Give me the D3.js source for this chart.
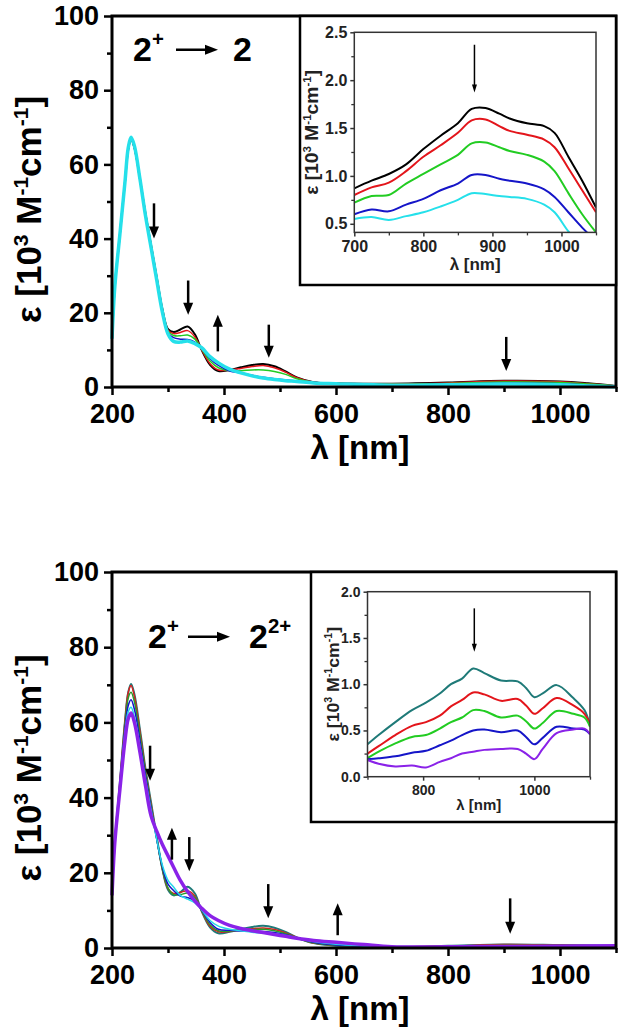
<!DOCTYPE html>
<html>
<head>
<meta charset="utf-8">
<script src="https://cdn.jsdelivr.net/npm/d3@7"></script>
<style>
  body { margin: 0; background: #fff; }
  svg { display: block; font-family: "Liberation Sans", Arial, sans-serif; font-weight: bold; }
</style>
</head>
<body>
<svg width="619" height="1035"></svg>
<script>
// ---- top panel: 2+ -> 2 ----
const topWl = [200, 205, 214, 223, 229, 234, 240, 250, 260, 270, 280, 290, 300, 310, 322, 335, 348, 360, 375, 390,
               410, 430, 450, 470, 490, 510, 530, 560, 600, 700, 800, 900, 1000, 1050, 1100];
const topBlack = [13, 27, 41, 55, 64, 66.8, 64.5, 56, 46.5, 38, 29.5, 21, 15.6, 14.8, 15.5, 16.3, 14.2, 10, 6, 4.3,
                  4.6, 5.3, 5.9, 6.2, 5.6, 4.2, 2.6, 1.3, 1.0, 0.9, 1.2, 1.7, 1.5, 1.0, 0.3];
const topRed = [13, 27, 41, 55, 64, 66.8, 64.5, 56, 46.5, 38, 29.3, 20.8, 15.3, 14.4, 14.7, 15.2, 13.5, 10.1, 6.3, 4.6,
                4.6, 5.0, 5.5, 5.8, 5.2, 4.0, 2.5, 1.3, 1.0, 0.85, 1.1, 1.6, 1.4, 0.9, 0.3];
const topGreen = [13, 27, 41, 55, 64, 66.8, 64.5, 56, 46.3, 37.8, 29.1, 20.6, 15.0, 13.9, 13.8, 14.0, 12.9, 10.3, 7.0, 5.2,
                  4.4, 4.4, 4.6, 4.6, 4.2, 3.4, 2.2, 1.2, 0.95, 0.75, 0.95, 1.35, 1.2, 0.8, 0.25];
const topBlue = [13, 27, 41, 55, 64, 66.8, 64.5, 56, 46.2, 37.6, 28.9, 20.4, 14.6, 13.3, 12.9, 12.8, 12.1, 10.5, 7.6, 5.8,
                 4.3, 3.8, 3.2, 2.6, 2.2, 1.9, 1.6, 1.2, 0.9, 0.6, 0.75, 1.0, 0.9, 0.5, 0.2];
const topCyan = [13, 27, 41, 55, 64.5, 67.3, 65, 56, 46, 37.4, 28.7, 20.2, 14.3, 12.3, 12.1, 12.4, 11.7, 10.6, 8.2, 6.5,
                 4.8, 3.8, 3.0, 2.4, 2.0, 1.7, 1.5, 1.1, 0.9, 0.5, 0.6, 0.8, 0.6, 0.3, 0.1];

const topInsetWl = [700, 725, 750, 775, 800, 825, 850, 870, 890, 910, 925, 950, 975, 990, 1010, 1030, 1050];
const topInsetBlack = [0.87, 0.95, 1.02, 1.12, 1.28, 1.42, 1.55, 1.70, 1.71, 1.65, 1.60, 1.55, 1.52, 1.45, 1.20, 0.95, 0.67];
const topInsetRed = [0.80, 0.88, 0.93, 1.05, 1.20, 1.32, 1.45, 1.58, 1.59, 1.52, 1.47, 1.43, 1.38, 1.30, 1.08, 0.85, 0.62];
const topInsetGreen = [0.72, 0.79, 0.80, 0.92, 1.02, 1.12, 1.22, 1.34, 1.35, 1.30, 1.26, 1.22, 1.15, 1.05, 0.82, 0.60, 0.41];
const topInsetBlue = [0.60, 0.65, 0.63, 0.70, 0.76, 0.85, 0.92, 1.01, 1.01, 0.97, 0.95, 0.92, 0.86, 0.78, 0.62, 0.46, 0.32];
const topInsetCyan = [0.55, 0.57, 0.54, 0.58, 0.62, 0.68, 0.75, 0.82, 0.81, 0.79, 0.78, 0.76, 0.70, 0.62, 0.42, 0.25, 0.10];

// arrows: [wavelength, from, to] in data units
const topArrows = [[275, 49.5, 40], [336, 28.7, 19.5], [389, 9.6, 19.5], [480, 16.8, 7.9], [904, 13.5, 4.3]];

// ---- bottom panel: 2+ -> 2 2+ ----
const botWl = [200, 205, 214, 223, 229, 234, 240, 250, 260, 270, 280, 290, 300, 310, 322, 335, 348, 360, 375, 390,
               410, 430, 450, 470, 490, 510, 530, 560, 600, 650, 700, 800, 900, 1000, 1100];
const botTeal = [14, 28, 44, 60, 68, 70.2, 67.5, 58, 47.5, 38.5, 29.5, 21, 15.5, 14.0, 14.8, 16.3, 14.5, 9.8, 5.5, 3.9,
                 4.3, 5.0, 5.6, 5.9, 5.4, 4.3, 2.8, 1.3, 0.6, 0.4, 0.3, 0.6, 0.95, 0.8, 0.6];
const botRed = [14, 28, 44, 60, 68, 69.8, 67, 57.5, 47, 38, 29.3, 21, 15.8, 14.5, 14.8, 15.2, 13.8, 9.9, 5.8, 4.3,
                4.4, 4.8, 5.1, 5.3, 4.9, 4.0, 2.8, 1.3, 0.7, 0.4, 0.3, 0.5, 0.9, 0.75, 0.55];
const botGreen = [14, 28, 43.5, 59, 66.5, 68, 65.5, 56.5, 46.5, 37.5, 29, 21, 16, 14.2, 14.2, 14.6, 13.4, 10, 6.2, 4.6,
                  4.5, 4.7, 4.9, 5.0, 4.6, 3.8, 2.7, 1.4, 0.7, 0.4, 0.3, 0.45, 0.7, 0.6, 0.5];
const botBlue = [14, 28, 43, 58, 64.5, 66, 63.5, 55, 45.5, 37, 28.8, 21.5, 17, 15.3, 13.8, 13.4, 12.5, 10.1, 6.8, 5.0,
                 4.7, 4.5, 4.5, 4.4, 4.1, 3.5, 2.7, 1.5, 0.8, 0.5, 0.35, 0.35, 0.5, 0.45, 0.45];
const botCyan = [14, 28, 42.5, 57, 62.8, 64, 61.5, 53.5, 44.5, 36.5, 28.8, 22, 18, 16.2, 14, 13, 12, 10.2, 7.3, 5.8,
                 5.0, 4.6, 4.2, 4.0, 3.8, 3.3, 2.7, 1.7, 1.0, 0.6, 0.35, 0.3, 0.4, 0.4, 0.45];
const botPurple = [14, 28, 42, 55, 61, 62.5, 60, 52, 43, 35, 31, 27.5, 24.5, 21.5, 18, 15, 12.5, 10.6, 8.6, 7.3,
                   6.0, 5.2, 4.6, 4.1, 3.6, 3.1, 2.6, 2.0, 1.5, 0.9, 0.35, 0.3, 0.4, 0.45, 0.6];

const botInsetWl = [700, 720, 750, 780, 805, 830, 850, 870, 890, 910, 940, 970, 985, 1000, 1015, 1040, 1070, 1090, 1100];
const botInsetTeal = [0.35, 0.45, 0.59, 0.72, 0.80, 0.90, 1.00, 1.06, 1.17, 1.12, 1.04, 1.03, 0.96, 0.86, 0.90, 0.99, 0.85, 0.72, 0.55];
const botInsetRed = [0.25, 0.33, 0.45, 0.55, 0.59, 0.66, 0.76, 0.83, 0.91, 0.89, 0.82, 0.84, 0.77, 0.68, 0.74, 0.85, 0.77, 0.68, 0.57];
const botInsetGreen = [0.20, 0.27, 0.36, 0.43, 0.45, 0.52, 0.59, 0.64, 0.72, 0.71, 0.64, 0.66, 0.60, 0.52, 0.58, 0.71, 0.68, 0.64, 0.54];
const botInsetBlue = [0.19, 0.20, 0.22, 0.26, 0.28, 0.34, 0.39, 0.45, 0.50, 0.51, 0.48, 0.50, 0.43, 0.35, 0.42, 0.54, 0.52, 0.51, 0.46];
const botInsetPurple = [0.18, 0.14, 0.11, 0.12, 0.10, 0.16, 0.20, 0.25, 0.27, 0.29, 0.30, 0.30, 0.25, 0.19, 0.30, 0.47, 0.51, 0.52, 0.46];

const botArrows = [[268, 53.8, 44.5], [307, 23.5, 32], [338, 29.5, 20.4], [479, 17, 7.9], [603, 3.4, 11.9], [911, 13.2, 3.8]];

const mainXTicks = [200, 400, 600, 800, 1000];
const mainYTicks = [0, 20, 40, 60, 80, 100];

const svg = d3.select("svg");
svg.append("rect").attr("width", 619).attr("height", 1035).attr("fill", "#fff");

const x = d3.scaleLinear().domain([200, 1100]).range([112, 616]);

function vArrow(g, px, y1, y2, sw, hl, hw) {
    // arrow pointing from y1 to y2 (pixels)
    const dir = y2 > y1 ? 1 : -1;
    g.append("line").attr("x1", px).attr("x2", px).attr("y1", y1).attr("y2", y2 - dir * hl * 0.8)
        .attr("stroke", "#000").attr("stroke-width", sw);
    g.append("path")
        .attr("d", `M${px - hw / 2},${y2 - dir * hl} L${px + hw / 2},${y2 - dir * hl} L${px},${y2} Z`)
        .attr("fill", "#000");
}

function superText(t, parts, sup) {
    parts.forEach(([s, up], i) => {
        const prev = i > 0 ? parts[i - 1][1] : false;
        const ts = t.append("tspan").text(s);
        if (up) ts.attr("font-size", sup.size);
        if (up && !prev) ts.attr("dy", -sup.dy);
        else if (!up && prev) ts.attr("dy", sup.dy);
    });
}

const yLabelParts = [["ε [10", false], ["3", true], [" M", false], ["-1", true], ["cm", false], ["-1", true], ["]", false]];

function drawMain(y0, y1, wl, series, arrows) {
    const y = d3.scaleLinear().domain([0, 100]).range([y0, y1]);
    const g = svg.append("g");

    const line = d3.line().x((d, i) => x(wl[i])).y(d => y(d)).curve(d3.curveCatmullRom.alpha(0.5));
    series.forEach(s => {
        g.append("path").datum(s.values).attr("d", line)
            .attr("fill", "none").attr("stroke", s.color).attr("stroke-width", s.width)
            .attr("stroke-linejoin", "round");
    });

    // minor ticks
    g.append("g").attr("transform", `translate(0,${y0})`)
        .call(d3.axisBottom(x).tickValues([300, 500, 700, 900, 1100]).tickSize(5).tickFormat(""))
        .call(a => a.select(".domain").remove())
        .selectAll("line").attr("stroke-width", 2.5);
    g.append("g").attr("transform", `translate(112,0)`)
        .call(d3.axisLeft(y).tickValues([10, 30, 50, 70, 90]).tickSize(5).tickFormat(""))
        .call(a => a.select(".domain").remove())
        .selectAll("line").attr("stroke-width", 2.5);

    const ax = g.append("g").attr("transform", `translate(0,${y0})`)
        .call(d3.axisBottom(x).tickValues(mainXTicks).tickFormat(d3.format("d")).tickSize(8).tickPadding(9).tickSizeOuter(0));
    ax.select(".domain").remove();
    ax.selectAll("line").attr("stroke-width", 2.5);
    ax.selectAll("text").attr("font-size", 27).attr("font-family", null).attr("fill", "#000");

    const ay = g.append("g").attr("transform", `translate(112,0)`)
        .call(d3.axisLeft(y).tickValues(mainYTicks).tickSize(8).tickPadding(5).tickSizeOuter(0));
    ay.select(".domain").remove();
    ay.selectAll("line").attr("stroke-width", 2.5);
    ay.selectAll("text").attr("font-size", 27).attr("font-family", null).attr("fill", "#000");

    // frame
    g.append("rect").attr("x", 112).attr("y", y1).attr("width", 616 - 112).attr("height", y0 - y1)
        .attr("fill", "none").attr("stroke", "#000").attr("stroke-width", 3);

    arrows.forEach(([w, a, b]) => vArrow(g, x(w), y(a), y(b), 2.5, 12, 10));

    // axis titles
    g.append("text").attr("x", 360).attr("y", y0 + 72).attr("text-anchor", "middle")
        .attr("font-size", 33).text("λ [nm]");
    const yt = g.append("text").attr("transform", `translate(41,${(y0 + y1) / 2 + 8}) rotate(-90)`)
        .attr("text-anchor", "middle").attr("font-size", 35);
    superText(yt, yLabelParts, { dy: 13, size: 21 });
    return g;
}

function drawInset(box, plot, xDom, yDom, wl, series, xTicks, xMinor, yTicks, yMinor, font, arrow, lab) {
    const g = svg.append("g");
    g.append("rect").attr("x", box[0]).attr("y", box[1]).attr("width", box[2] - box[0]).attr("height", box[3] - box[1])
        .attr("fill", "#fff").attr("stroke", "#000").attr("stroke-width", 2.5);
    const xi = d3.scaleLinear().domain(xDom).range([plot[0], plot[2]]);
    const yi = d3.scaleLinear().domain(yDom).range([plot[3], plot[1]]);
    const id = "clip" + Math.round(plot[1]);
    g.append("clipPath").attr("id", id).append("rect")
        .attr("x", plot[0]).attr("y", plot[1]).attr("width", plot[2] - plot[0]).attr("height", plot[3] - plot[1]);
    const line = d3.line().x((d, i) => xi(wl[i])).y(d => yi(d)).curve(d3.curveCatmullRom.alpha(0.5));
    const pg = g.append("g").attr("clip-path", `url(#${id})`);
    series.forEach(s => {
        pg.append("path").datum(s.values).attr("d", line)
            .attr("fill", "none").attr("stroke", s.color).attr("stroke-width", 2);
    });

    g.append("g").attr("transform", `translate(0,${plot[3]})`)
        .call(d3.axisBottom(xi).tickValues(xMinor).tickSize(3).tickFormat(""))
        .call(a => a.select(".domain").remove())
        .selectAll("line").attr("stroke-width", 1.3).attr("stroke", "#333");
    g.append("g").attr("transform", `translate(${plot[0]},0)`)
        .call(d3.axisLeft(yi).tickValues(yMinor).tickSize(3).tickFormat(""))
        .call(a => a.select(".domain").remove())
        .selectAll("line").attr("stroke-width", 1.3).attr("stroke", "#333");

    const ax = g.append("g").attr("transform", `translate(0,${plot[3]})`)
        .call(d3.axisBottom(xi).tickValues(xTicks).tickFormat(d3.format("d")).tickSize(4).tickPadding(4).tickSizeOuter(0));
    ax.select(".domain").remove();
    ax.selectAll("line").attr("stroke-width", 1.5).attr("stroke", "#333");
    ax.selectAll("text").attr("font-size", font).attr("font-family", null).attr("fill", "#222");
    const ay = g.append("g").attr("transform", `translate(${plot[0]},0)`)
        .call(d3.axisLeft(yi).tickValues(yTicks).tickFormat(d3.format(".1f")).tickSize(4).tickPadding(3).tickSizeOuter(0));
    ay.select(".domain").remove();
    ay.selectAll("line").attr("stroke-width", 1.5).attr("stroke", "#333");
    ay.selectAll("text").attr("font-size", font).attr("font-family", null).attr("fill", "#222");

    g.append("rect").attr("x", plot[0]).attr("y", plot[1]).attr("width", plot[2] - plot[0]).attr("height", plot[3] - plot[1])
        .attr("fill", "none").attr("stroke", "#333").attr("stroke-width", 1.5);

    vArrow(g, xi(arrow[0]), yi(arrow[1]), yi(arrow[2]), 1.5, 8, 5);

    g.append("text").attr("x", (plot[0] + plot[2]) / 2).attr("y", plot[3] + lab.xOff)
        .attr("text-anchor", "middle").attr("font-size", lab.xSize).attr("fill", "#222").text("λ [nm]");
    const yt = g.append("text")
        .attr("transform", `translate(${lab.yX},${(plot[1] + plot[3]) / 2}) rotate(-90) scale(${lab.squeeze},1)`)
        .attr("text-anchor", "middle").attr("font-size", lab.size).attr("fill", "#222");
    superText(yt, yLabelParts, { dy: lab.size * 0.4, size: lab.size * 0.6 });
}

function reaction(xs, yBase, size, rhsSup) {
    const g = svg.append("g");
    const t1 = g.append("text").attr("x", xs[0]).attr("y", yBase).attr("font-size", size);
    t1.append("tspan").text("2");
    t1.append("tspan").attr("dy", -size * 0.45).attr("font-size", size * 0.6).text("+");
    const ay = yBase - size * 0.33;
    g.append("line").attr("x1", xs[1]).attr("x2", xs[2] - 8).attr("y1", ay).attr("y2", ay)
        .attr("stroke", "#000").attr("stroke-width", 2.5);
    g.append("path").attr("d", `M${xs[2] - 13},${ay - 5} L${xs[2]},${ay} L${xs[2] - 13},${ay + 5} Z`)
        .attr("fill", "#000");
    const t2 = g.append("text").attr("x", xs[3]).attr("y", yBase).attr("font-size", size);
    t2.append("tspan").text("2");
    if (rhsSup) t2.append("tspan").attr("dy", -size * 0.45).attr("font-size", size * 0.6).text(rhsSup);
}

// top panel
drawMain(387, 16, topWl, [
    { values: topBlack, color: "#000", width: 2 },
    { values: topRed, color: "#e3151b", width: 1.5 },
    { values: topGreen, color: "#22cc22", width: 1.5 },
    { values: topBlue, color: "#1515c8", width: 1.5 },
    { values: topCyan, color: "#25e0ea", width: 3.5 }
], topArrows);
drawInset([300, 16, 616, 285], [354.3, 32.3, 596, 232.4], [700, 1050], [0.41, 2.5], topInsetWl, [
    { values: topInsetBlack, color: "#000" },
    { values: topInsetRed, color: "#e3151b" },
    { values: topInsetGreen, color: "#22cc22" },
    { values: topInsetBlue, color: "#1515c8" },
    { values: topInsetCyan, color: "#25e0ea" }
], [700, 800, 900, 1000], [750, 850, 950, 1050], [0.5, 1.0, 1.5, 2.0, 2.5], [0.75, 1.25, 1.75, 2.25], 16,
    [874, 2.37, 1.87], { size: 18, squeeze: 1.07, xSize: 17, xOff: 38, yX: 318 });
reaction([133, 176, 218, 233], 61, 34, null);

// bottom panel
drawMain(948, 572, botWl, [
    { values: botTeal, color: "#1f7a78", width: 2 },
    { values: botRed, color: "#d82020", width: 1.5 },
    { values: botGreen, color: "#2a9a2a", width: 1.5 },
    { values: botBlue, color: "#1515c8", width: 1.5 },
    { values: botCyan, color: "#25d8e8", width: 1.5 },
    { values: botPurple, color: "#8a22e8", width: 3.5 }
], botArrows);
drawInset([311, 572, 616, 822], [367.5, 591.7, 590, 776.7], [700, 1100], [0, 2], botInsetWl, [
    { values: botInsetTeal, color: "#1f7a78" },
    { values: botInsetRed, color: "#e3151b" },
    { values: botInsetGreen, color: "#22cc22" },
    { values: botInsetBlue, color: "#1515c8" },
    { values: botInsetPurple, color: "#8a22e8" }
], [800, 1000], [700, 900, 1100], [0.0, 0.5, 1.0, 1.5, 2.0], [0.25, 0.75, 1.25, 1.75], 14,
    [892, 1.82, 1.35], { size: 17, squeeze: 1.04, xSize: 15, xOff: 33, yX: 339 });
reaction([148, 188, 230, 249], 648, 34, "2+");
</script>
</body>
</html>
